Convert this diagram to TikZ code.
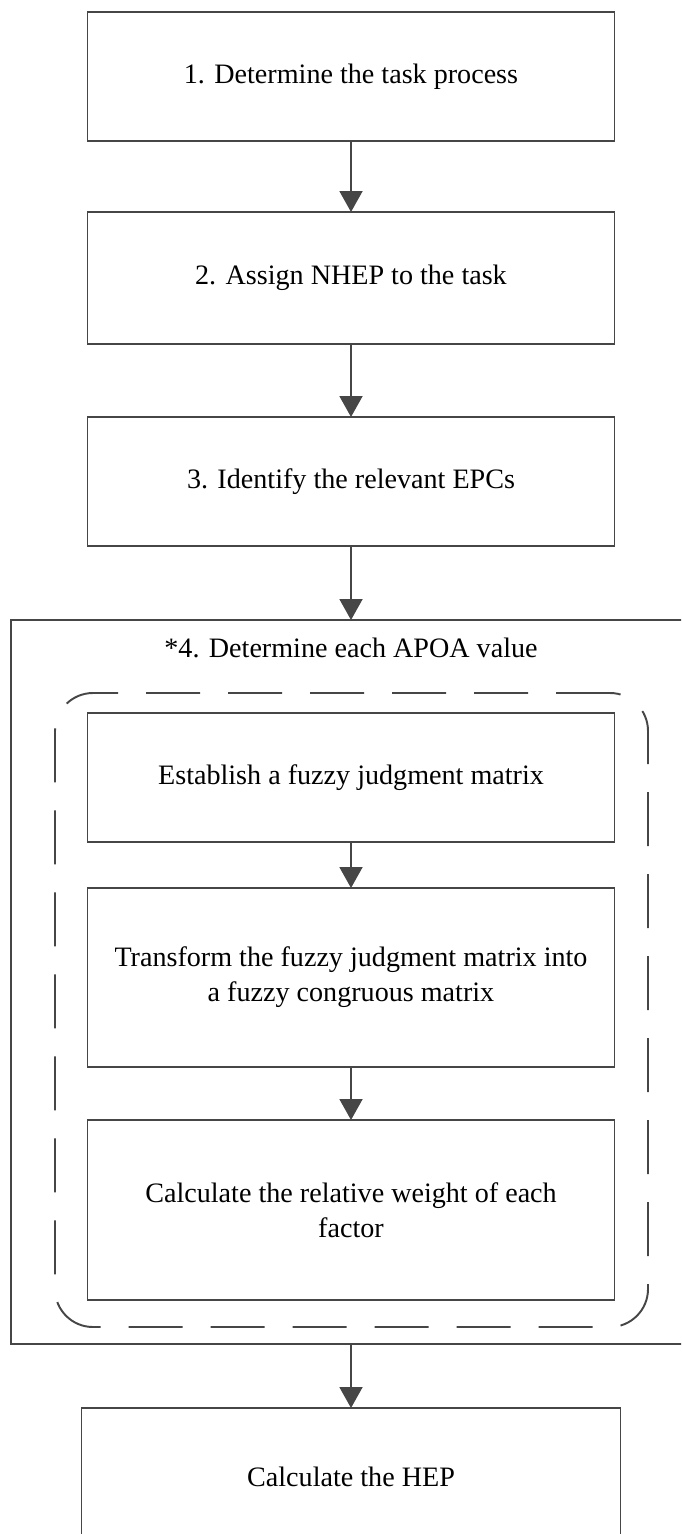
\documentclass[tikz,border=0pt]{standalone}
\usepackage{fontspec}
\setmainfont{Liberation Serif}
\usetikzlibrary{arrows.meta}
\definecolor{linegray}{HTML}{464646}

\begin{document}
\begin{tikzpicture}[scale=1.0,
  stepbox/.style={draw=linegray, line width=1.1pt, inner sep=0pt, outer sep=0pt,
    minimum width=10.54cm, align=center, font=\fontsize{16}{19.9}\selectfont},
  flow/.style={draw=linegray, line width=1.1pt, -{Triangle[length=0.42cm,width=0.46cm]}}]
  \useasboundingbox (0,0) rectangle (13.62,-30.68);
  \clip (0,0) rectangle (13.62,-30.68);
  \node[stepbox, minimum height=2.58cm] (s1) at (7.02,-1.53) {1. Determine the task process};
  \node[stepbox, minimum height=2.64cm] (s2) at (7.02,-5.56) {2. Assign NHEP to the task};
  \node[stepbox, minimum height=2.58cm] (s3) at (7.02,-9.63) {3. Identify the relevant EPCs};
  \node[stepbox, minimum width=13.6cm, minimum height=14.48cm] (s4) at (7.02,-19.64) {};
  \node[font=\fontsize{16}{19.9}\selectfont] (s4title) at (7.02,-12.96) {*4. Determine each APOA value};
  \node[draw=linegray, line width=1.1pt, dash pattern=on 1.08cm off 0.56cm, rounded corners=0.76cm,
    minimum width=11.86cm, minimum height=12.68cm] (apoa) at (7.03,-20.2) {};
  \node[stepbox, minimum height=2.58cm] (a1) at (7.02,-15.55) {Establish a fuzzy judgment matrix};
  \node[stepbox, minimum height=3.58cm] (a2) at (7.02,-19.55)
    {Transform the fuzzy judgment matrix into\\a fuzzy congruous matrix};
  \node[stepbox, minimum height=3.6cm] (a3) at (7.02,-24.2)
    {Calculate the relative weight of each\\factor};
  \node[stepbox, minimum width=10.78cm, minimum height=2.74cm] (s5) at (7.02,-29.53) {Calculate the HEP};
  \draw[flow] (s1) -- (s2);
  \draw[flow] (s2) -- (s3);
  \draw[flow] (s3) -- (s4);
  \draw[flow] (a1) -- (a2);
  \draw[flow] (a2) -- (a3);
  \draw[flow] (s4) -- (s5);
\end{tikzpicture}
\end{document}
